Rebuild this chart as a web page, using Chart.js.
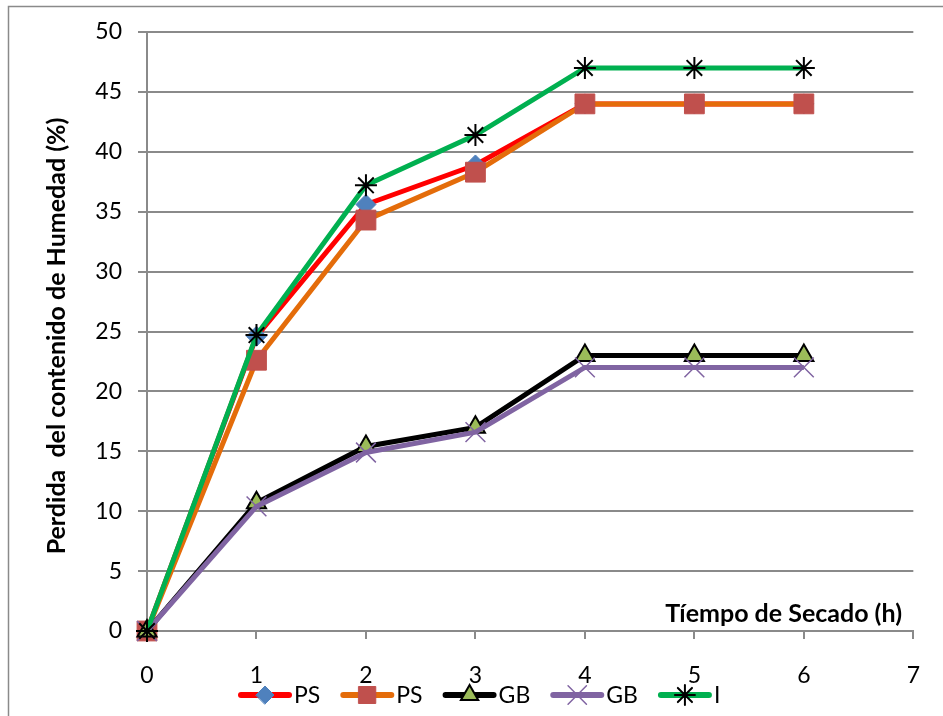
<!DOCTYPE html>
<html>
<head>
<meta charset="utf-8">
<script src="https://cdn.jsdelivr.net/npm/chart.js@4/dist/chart.umd.min.js"></script>
<style>
html,body{margin:0;padding:0;background:#fff;}
canvas{display:block;}
</style>
</head>
<body>
<canvas id="c" width="943" height="716"></canvas>
<script>
// ---- data ----
const hours = [0, 1, 2, 3, 4, 5, 6];
const seriesNames = ['PS', 'PS', 'GB', 'GB', 'I'];
const ps1 = [0, 24.6, 35.6, 38.9, 44, 44, 44];
const ps2 = [0, 22.6, 34.3, 38.3, 44, 44, 44];
const gb1 = [0, 10.7, 15.4, 17.0, 23, 23, 23];
const gb2 = [0, 10.4, 14.9, 16.6, 22, 22, 22];
const iSeries = [0, 24.7, 37.2, 41.4, 47, 47, 47];
const xTitle = 'Tíempo de Secado (h)';
const yTitle = 'Perdida  del contenido de Humedad (%)';

const toPts = arr => arr.map((v, i) => ({x: hours[i], y: v}));

const styles = [
  {line: '#FF0000', pointStyle: 'rectRot', bg: '#4F81BD', bd: '#4F81BD', r: 10, lr: 9, bw: 1, order: 5},
  {line: '#E46C0A', pointStyle: 'rect', bg: '#C0504D', bd: '#C0504D', r: 14, lr: 12, bw: 1, order: 4},
  {line: '#000000', pointStyle: 'triangle', bg: '#9BBB59', bd: '#000000', r: 11, lr: 10, bw: 2, order: 3},
  {line: '#8064A2', pointStyle: 'crossRot', bg: '#8064A2', bd: '#8064A2', r: 14, lr: 13, bw: 1.5, order: 2},
  {line: '#00B050', pointStyle: 'star', bg: '#000000', bd: '#000000', r: 11, lr: 10, bw: 2, order: 1}
];
const allSeries = [ps1, ps2, gb1, gb2, iSeries];

const datasets = allSeries.map((s, k) => ({
  label: seriesNames[k],
  data: toPts(s),
  borderColor: styles[k].line,
  backgroundColor: styles[k].bg,
  borderWidth: 5,
  pointStyle: styles[k].pointStyle,
  pointRadius: styles[k].r,
  pointHoverRadius: styles[k].r,
  pointBackgroundColor: styles[k].bg,
  pointBorderColor: styles[k].bd,
  pointBorderWidth: styles[k].bw,
  order: styles[k].order,
  clip: false,
  tension: 0
}));

const FONT = 'Lato';

function drawMarker(ctx, st, x, y) {
  ctx.save();
  ctx.fillStyle = st.bg;
  ctx.strokeStyle = st.bd;
  ctx.lineWidth = st.bw;
  Chart.helpers.drawPoint(ctx, {
    pointStyle: st.pointStyle,
    radius: st.lr,
    borderWidth: st.bw,
    rotation: 0
  }, x, y);
  ctx.restore();
}

const extras = {
  id: 'extras',
  beforeDraw(chart) {
    const ctx = chart.ctx;
    ctx.save();
    ctx.fillStyle = '#fff';
    ctx.fillRect(0, 0, chart.width, chart.height);
    ctx.strokeStyle = '#8a8a8a';
    ctx.lineWidth = 1.5;
    ctx.strokeRect(8.5, 6.5, 1200, 1200);
    ctx.restore();
  },
  afterDraw(chart) {
    const ctx = chart.ctx;
    ctx.save();
    // x title inside plot, above axis
    ctx.fillStyle = '#000';
    ctx.font = 'bold 25px ' + FONT;
    ctx.textAlign = 'right';
    ctx.textBaseline = 'middle';
    ctx.fillText(xTitle, 902, 614);
    // y title
    ctx.save();
    ctx.translate(57, 336);
    ctx.rotate(-Math.PI / 2);
    ctx.textAlign = 'center';
    ctx.font = 'bold 25px ' + FONT;
    ctx.fillText(yTitle, 0, 0);
    ctx.restore();
    // legend
    let x = 238;
    const y = 695;
    ctx.font = '23px ' + FONT;
    ctx.textAlign = 'left';
    datasets.forEach((d, k) => {
      ctx.strokeStyle = d.borderColor;
      ctx.lineWidth = 6;
      ctx.lineCap = 'round';
      ctx.beginPath();
      ctx.moveTo(x + 3, y);
      ctx.lineTo(x + 51, y);
      ctx.stroke();
      drawMarker(ctx, styles[k], x + 27, y);
      ctx.fillStyle = '#000';
      ctx.fillText(d.label, x + 56, y + 1);
      x += 56 + ctx.measureText(d.label).width + 20;
    });
    ctx.restore();
  }
};

new Chart(document.getElementById('c'), {
  type: 'line',
  data: {datasets},
  plugins: [extras],
  options: {
    responsive: false,
    animation: false,
    events: [],
    layout: {padding: {left: 0, right: 25, top: 32, bottom: 30}},
    plugins: {legend: {display: false}, tooltip: {enabled: false}, title: {display: false}},
    scales: {
      x: {
        type: 'linear',
        min: 0, max: 7,
        afterFit: s => { s.height = 55; },
        ticks: {stepSize: 1, color: '#000', font: {family: FONT, size: 23}, padding: 23, maxRotation: 0},
        grid: {drawOnChartArea: false, drawTicks: true, tickLength: 8, color: '#8a8a8a', lineWidth: 2},
        border: {color: '#8a8a8a', width: 2}
      },
      y: {
        min: 0, max: 50,
        afterFit: s => { s.width = 147; },
        ticks: {stepSize: 5, color: '#000', font: {family: FONT, size: 23}, padding: 16},
        grid: {color: '#8a8a8a', lineWidth: 2, tickLength: 9},
        border: {color: '#8a8a8a', width: 2}
      }
    }
  }
});
</script>
</body>
</html>
